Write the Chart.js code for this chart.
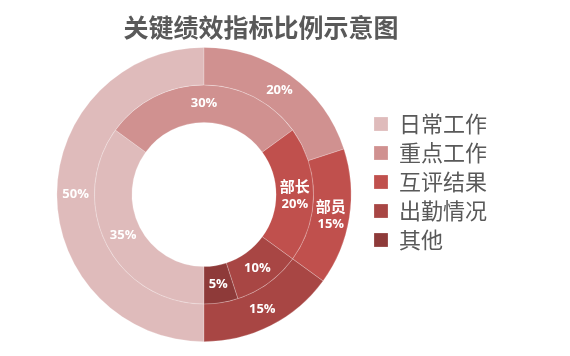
<!DOCTYPE html>
<html>
<head>
<meta charset="utf-8">
<script src="https://cdn.jsdelivr.net/npm/chart.js@4/dist/chart.umd.min.js"></script>
<style>
  html, body { margin: 0; padding: 0; background: #ffffff; }
  #wrap { width: 570px; height: 356px; position: relative; }
</style>
</head>
<body>
<div id="wrap"><canvas id="c" width="570" height="356"></canvas></div>
<script>
// ---- data ----
const title = '关键绩效指标比例示意图';
const categories = ['日常工作', '重点工作', '互评结果', '出勤情况', '其他'];
const outerValues = [50, 20, 15, 15, 0];   // outer ring (部员)
const innerValues = [35, 30, 20, 10, 5];   // inner ring (部长)
const outerSubLabels = ['', '', '部员', '', ''];
const innerSubLabels = ['', '', '部长', '', ''];

// ---- styles ----
const colors = ['#dfbbbb', '#d09190', '#c0504d', '#a84644', '#8e3a39'];

const labelPlugin = {
  id: 'sliceLabels',
  afterDatasetsDraw(chart) {
    const ctx = chart.ctx;
    const subs = [outerSubLabels, innerSubLabels];
    ctx.save();
    ctx.fillStyle = '#ffffff';
    ctx.textAlign = 'center';
    ctx.textBaseline = 'middle';
    chart.data.datasets.forEach((ds, di) => {
      const meta = chart.getDatasetMeta(di);
      meta.data.forEach((arc, i) => {
        const v = ds.data[i];
        if (!v) return;
        const p = arc.tooltipPosition();
        const sub = subs[di][i];
        if (sub) {
          ctx.font = "bold 15px 'Noto Sans CJK SC', sans-serif";
          ctx.fillText(sub, p.x, p.y - 8);
          ctx.font = "bold 13px 'Open Sans', 'Liberation Sans', sans-serif";
          ctx.fillText(v + '%', p.x, p.y + 9.5);
        } else {
          ctx.font = "bold 13px 'Open Sans', 'Liberation Sans', sans-serif";
          ctx.fillText(v + '%', p.x, p.y);
        }
      });
    });
    ctx.restore();
  }
};

const legendShift = {
  id: 'legendShift',
  afterLayout(chart) {
    const lg = chart.legend;
    if (lg) {
      lg.top += 11;
      lg.bottom += 11;
      lg.right += 40;   // widen clip box so labels are not cut
      lg.width += 40;
    }
  }
};

Chart.defaults.font.family = "'Noto Sans CJK SC', sans-serif";

new Chart(document.getElementById('c'), {
  type: 'doughnut',
  data: {
    labels: categories,
    datasets: [
      { data: outerValues, backgroundColor: colors, borderColor: 'rgba(255,255,255,0.3)', borderWidth: 0.75 },
      { data: innerValues, backgroundColor: colors, borderColor: 'rgba(255,255,255,0.3)', borderWidth: 0.75 }
    ]
  },
  options: {
    responsive: false,
    animation: false,
    rotation: 180,
    cutout: '49%',
    layout: { padding: { left: 41, right: 89, top: 0, bottom: 14 } },
    plugins: {
      tooltip: { enabled: false },
      title: {
        display: true,
        text: title,
        color: '#595959',
        font: { size: 25, weight: 'bold', family: "'Noto Sans CJK SC', sans-serif" },
        padding: { top: 12, bottom: 5 }
      },
      legend: {
        position: 'right',
        align: 'center',
        maxWidth: 114,
        labels: {
          boxWidth: 14,
          boxHeight: 14,
          padding: 7,
          color: '#595959',
          font: { size: 22, family: "'Noto Sans CJK SC', sans-serif" }
        }
      }
    }
  },
  plugins: [labelPlugin, legendShift]
});
</script>
</body>
</html>
